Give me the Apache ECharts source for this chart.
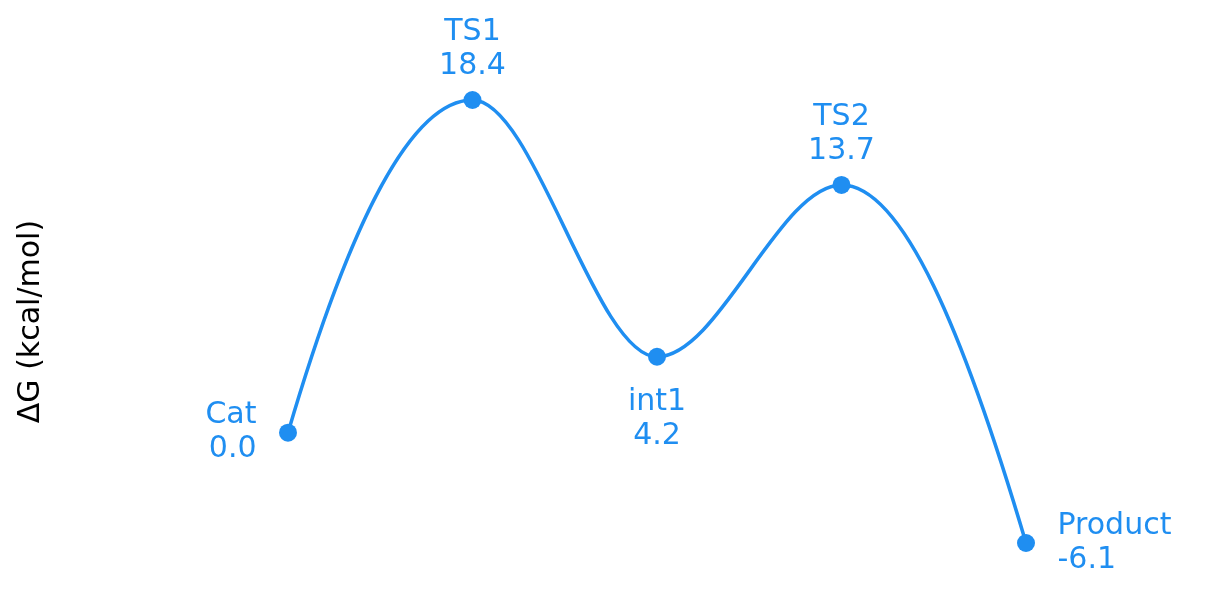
<!DOCTYPE html>
<html>
<head>
<meta charset="utf-8">
<script src="https://cdn.jsdelivr.net/npm/echarts@6/dist/echarts.min.js"></script>
<style>
html,body{margin:0;padding:0;background:#fff;}
#c{width:1228px;height:592px;}
</style>
</head>
<body>
<div id="c"></div>
<script>
var categories = ['Cat', 'TS1', 'int1', 'TS2', 'Product'];
var energies = [0.0, 18.4, 4.2, 13.7, -6.1];
var labelPositions = ['left', 'top', 'bottom', 'top', 'right'];
var yAxisName = 'ΔG (kcal/mol)';

var blue = '#1f8ef1';
var font = 'DejaVu Sans';
var labelDistance = { left: 22.5, right: 22.5, top: 7.5, bottom: 19.5 };

// Monotone (PCHIP) tangents computed from the data values, per category step
function sign(a) { return a > 0 ? 1 : (a < 0 ? -1 : 0); }
function pchipSlopes(y) {
  var n = y.length, d = [], s = [];
  for (var i = 0; i < n - 1; i++) d.push(y[i + 1] - y[i]);
  for (var k = 1; k < n - 1; k++) {
    if (d[k - 1] * d[k] <= 0) s[k] = 0;
    else s[k] = 2 / (1 / d[k - 1] + 1 / d[k]);
  }
  function endSlope(d0, d1) {
    var m = (3 * d0 - d1) / 2;
    if (sign(m) !== sign(d0)) return 0;
    if (sign(d0) !== sign(d1) && Math.abs(m) > Math.abs(3 * d0)) return 3 * d0;
    return m;
  }
  s[0] = endSlope(d[0], d[1]);
  s[n - 1] = endSlope(d[n - 2], d[n - 3]);
  return s;
}
var slopes = pchipSlopes(energies);

var seriesData = energies.map(function (v, i) {
  var pos = labelPositions[i];
  return {
    value: v,
    label: { position: pos, distance: labelDistance[pos] }
  };
});

var chart = echarts.init(document.getElementById('c'));
chart.setOption({
  animation: false,
  grid: { left: 288, right: 202, top: 100, bottom: 49, containLabel: false, outerBoundsMode: 'none' },
  xAxis: {
    type: 'category',
    data: categories,
    boundaryGap: false,
    show: false
  },
  yAxis: {
    type: 'value',
    min: -6.1,
    max: 18.4,
    name: yAxisName,
    nameLocation: 'middle',
    nameGap: 242,
    nameRotate: 90,
    nameTextStyle: { color: '#000', fontSize: 30, fontFamily: font },
    axisLine: { show: false },
    axisTick: { show: false },
    axisLabel: { show: false },
    splitLine: { show: false }
  },
  series: [{
    type: 'custom',
    z: 1,
    silent: true,
    data: energies.map(function (v, i) { return [i, v]; }),
    encode: { x: 0, y: 1 },
    renderItem: function (params, api) {
      var i = params.dataIndex;
      if (i >= energies.length - 1) return null;
      var p0 = api.coord([i, energies[i]]);
      var p1 = api.coord([i + 1, energies[i + 1]]);
      var dx = p1[0] - p0[0];
      var c0y = api.coord([i, energies[i] + slopes[i] / 3])[1];
      var c1y = api.coord([i, energies[i + 1] - slopes[i + 1] / 3])[1];
      return {
        type: 'bezierCurve',
        shape: {
          x1: p0[0], y1: p0[1],
          cpx1: p0[0] + dx / 3, cpy1: c0y,
          cpx2: p1[0] - dx / 3, cpy2: c1y,
          x2: p1[0], y2: p1[1]
        },
        style: { stroke: blue, lineWidth: 3.5, fill: null }
      };
    }
  }, {
    type: 'line',
    z: 2,
    data: seriesData,
    symbol: 'circle',
    symbolSize: 18,
    lineStyle: { width: 0, opacity: 0 },
    itemStyle: { color: blue },
    label: {
      show: true,
      color: blue,
      fontSize: 30,
      lineHeight: 34,
      fontFamily: font,
      formatter: function (p) {
        return p.name + '\n' + energies[p.dataIndex].toFixed(1);
      }
    }
  }]
});
</script>
</body>
</html>
